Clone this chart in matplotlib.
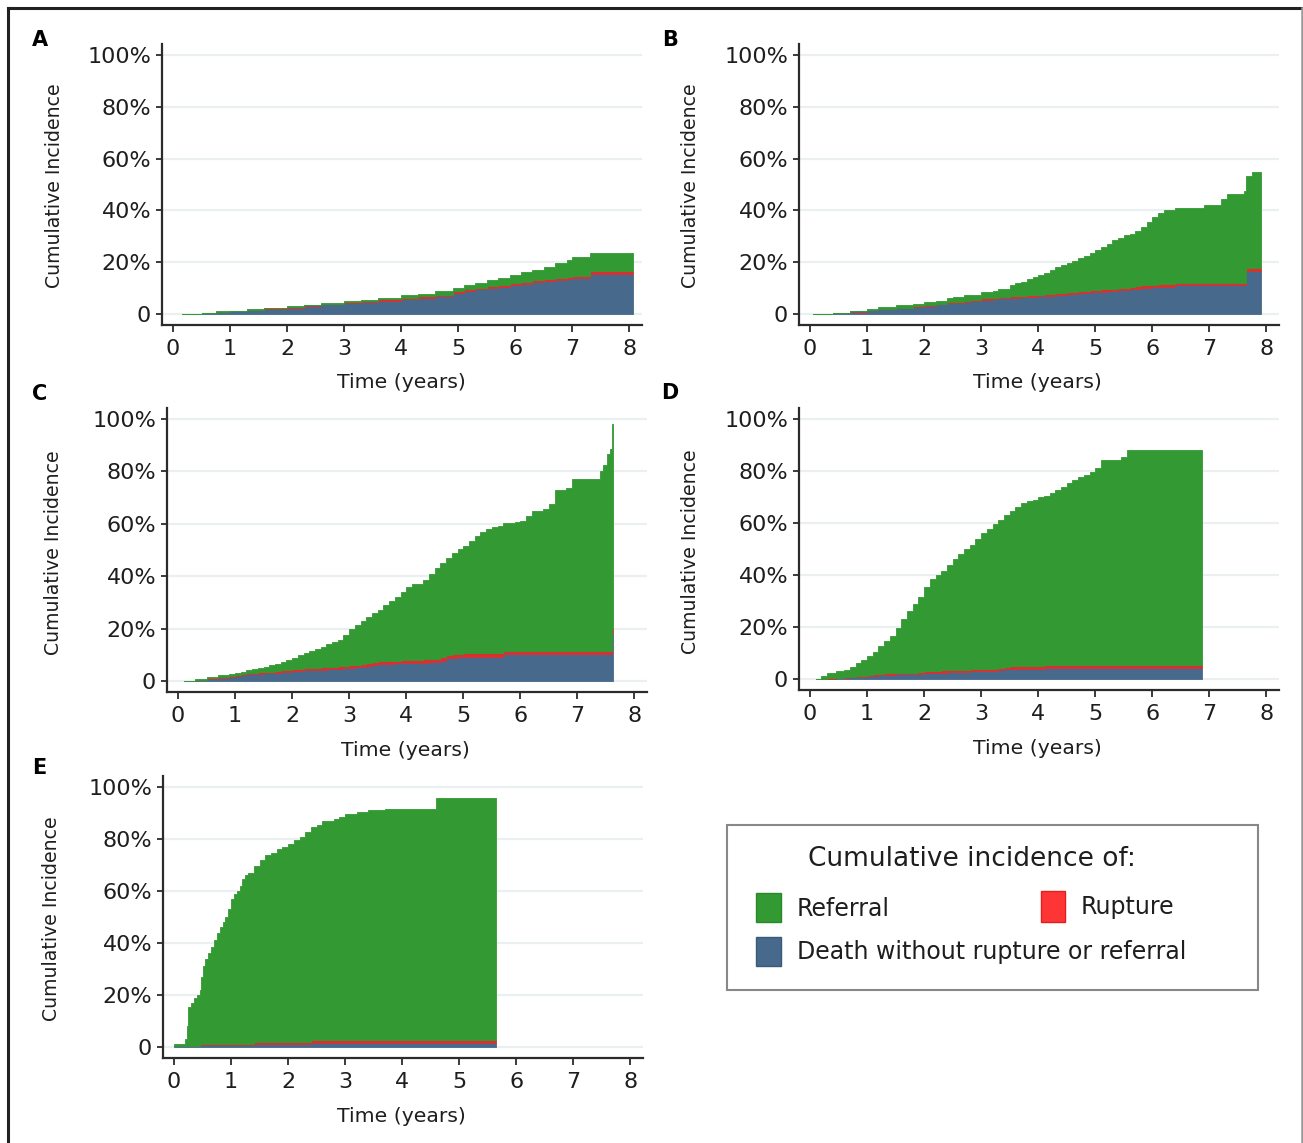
import numpy as np
import matplotlib
matplotlib.use("Agg")
import matplotlib.pyplot as plt
from matplotlib.patches import Rectangle
from matplotlib.lines import Line2D

# ---------------- data (cumulative incidence, %) ----------------
panel_letters = ["A", "B", "C", "D", "E"]
series_names = ["Death without rupture or referral", "Rupture", "Referral"]
x_ticks = [0, 1, 2, 3, 4, 5, 6, 7, 8]
y_ticks = [0, 20, 40, 60, 80, 100]
y_tick_labels = ["0", "20%", "40%", "60%", "80%", "100%"]

tA = [0.15, 0.5, 0.75, 1.0, 1.3, 1.6, 2.0, 2.3, 2.6, 3.0, 3.3, 3.6, 4.0, 4.3, 4.6,
      4.9, 5.1, 5.3, 5.5, 5.7, 5.9, 6.1, 6.3, 6.5, 6.7, 6.9, 7.0, 7.3]
endA = 8.07
deathA = [0, 0.3, 0.8, 1.1, 1.4, 2.0, 2.5, 3.0, 3.7, 4.2, 4.6, 5.1, 5.8, 6.3, 6.9,
          8.2, 9.0, 9.5, 10.1, 10.6, 11.2, 11.7, 12.2, 12.7, 13.1, 13.5, 13.9, 15.4]
ruptureA = [0, 0, 0.1, 0.1, 0.2, 0.2, 0.3, 0.3, 0.3, 0.4, 0.4, 0.5, 0.5, 0.5, 0.6,
            0.6, 0.6, 0.7, 0.7, 0.7, 0.8, 0.8, 0.8, 0.8, 0.9, 0.9, 0.9, 1.1]
referralA = [0, 0, 0.1, 0.1, 0.2, 0.2, 0.2, 0.2, 0.2, 0.4, 0.5, 0.6, 0.9, 1.0, 1.2,
             1.2, 1.6, 1.8, 2.2, 2.7, 3.2, 3.7, 4.0, 4.7, 5.5, 6.6, 7.2, 7.2]

tB = [0.05, 0.4, 0.7, 1.0, 1.2, 1.5, 1.8, 2.0, 2.2, 2.4, 2.5, 2.7, 2.8, 3.0, 3.2,
      3.3, 3.5, 3.6, 3.7, 3.8, 3.9, 4.0, 4.1, 4.2, 4.3, 4.4, 4.5, 4.6, 4.7, 4.8,
      4.9, 5.0, 5.1, 5.2, 5.3, 5.4, 5.5, 5.6, 5.7, 5.8, 5.9, 6.0, 6.1, 6.2, 6.4,
      6.9, 7.2, 7.3, 7.6, 7.65, 7.75]
endB = 7.91
deathB = [0, 0.5, 0.9, 1.4, 1.8, 2.3, 2.7, 3.2, 3.7, 4.1, 4.4, 4.8, 5.1, 5.5, 5.8,
          6.0, 6.2, 6.3, 6.4, 6.6, 6.7, 6.8, 6.9, 7.1, 7.3, 7.4, 7.6, 7.8, 8.0, 8.2,
          8.3, 8.4, 8.6, 8.7, 8.9, 9.1, 9.2, 9.5, 9.8, 10.0, 10.2, 10.3, 10.5, 10.6, 11.0,
          11.0, 11.0, 11.0, 11.0, 16.7, 16.7]
ruptureB = [0, 0, 0.1, 0.1, 0.2, 0.2, 0.3, 0.3, 0.3, 0.4, 0.4, 0.4, 0.4, 0.5, 0.5,
            0.5, 0.6, 0.6, 0.6, 0.6, 0.7, 0.7, 0.7, 0.7, 0.7, 0.8, 0.8, 0.8, 0.8, 0.8,
            0.9, 0.9, 0.9, 0.9, 0.9, 0.9, 1.0, 1.0, 1.0, 1.0, 1.0, 1.0, 1.0, 1.0, 1.0,
            1.0, 1.0, 1.0, 1.0, 1.1, 1.1]
referralB = [0, 0, 0.2, 0.5, 0.8, 0.8, 0.8, 1.0, 1.0, 1.5, 1.7, 2.0, 2.0, 2.4, 2.7,
             3.0, 4.2, 4.9, 5.5, 6.3, 6.8, 7.5, 8.4, 9.0, 10.0, 10.8, 11.2, 11.9, 12.7, 13.5,
             14.3, 15.5, 16.5, 17.4, 18.7, 19.5, 20.3, 20.5, 21.2, 22.5, 24.3, 26.2, 27.5, 28.4, 29.0,
             30.0, 32.5, 34.5, 35.5, 35.5, 37.2]

tC = [0.1, 0.3, 0.5, 0.7, 0.9, 1.0, 1.1, 1.2, 1.3, 1.4, 1.5, 1.6, 1.7, 1.8, 1.9,
      2.0, 2.1, 2.2, 2.3, 2.4, 2.5, 2.6, 2.7, 2.8, 2.9, 3.0, 3.1, 3.2, 3.3, 3.4,
      3.5, 3.6, 3.7, 3.8, 3.9, 4.0, 4.1, 4.3, 4.4, 4.5, 4.6, 4.7, 4.8, 4.9, 5.0,
      5.1, 5.2, 5.3, 5.4, 5.5, 5.6, 5.7, 5.9, 6.0, 6.1, 6.2, 6.4, 6.5, 6.6, 6.8,
      6.9, 7.3, 7.4, 7.45, 7.52, 7.57, 7.6]
endC = 7.63
deathC = [0, 0.4, 0.8, 1.2, 1.7, 1.8, 2.2, 2.5, 2.6, 2.8, 2.9, 3.0, 3.2, 3.3, 3.5,
          3.7, 3.8, 4.0, 4.1, 4.1, 4.3, 4.4, 4.6, 4.7, 4.8, 5.0, 5.2, 5.5, 5.8, 6.1,
          6.4, 6.5, 6.6, 6.7, 6.8, 6.8, 6.9, 7.0, 7.1, 7.3, 7.8, 8.7, 8.9, 9.0, 9.2,
          9.2, 9.2, 9.2, 9.2, 9.2, 9.2, 10.1, 10.1, 10.1, 10.1, 10.1, 10.1, 10.1, 10.1, 10.1,
          10.1, 10.1, 10.1, 10.1, 10.1, 10.1, 18.4]
ruptureC = [0, 0.1, 0.2, 0.3, 0.3, 0.4, 0.4, 0.5, 0.5, 0.5, 0.6, 0.6, 0.6, 0.7, 0.7,
            0.8, 0.8, 0.8, 0.8, 0.9, 0.9, 0.9, 0.9, 0.9, 1.0, 1.0, 1.0, 1.0, 1.0, 1.1,
            1.1, 1.1, 1.1, 1.1, 1.1, 1.2, 1.2, 1.2, 1.2, 1.2, 1.2, 1.3, 1.3, 1.3, 1.3,
            1.3, 1.3, 1.3, 1.3, 1.3, 1.3, 1.4, 1.4, 1.4, 1.4, 1.4, 1.4, 1.4, 1.4, 1.4,
            1.4, 1.4, 1.4, 1.4, 1.4, 1.4, 1.6]
referralC = [0, 0.3, 0.5, 0.7, 0.7, 0.8, 1.0, 1.0, 1.4, 1.7, 2.0, 2.4, 2.8, 3.2, 3.8,
             4.1, 5.2, 5.7, 6.6, 7.3, 7.8, 8.7, 9.5, 10.0, 11.7, 14.0, 15.3, 16.5, 17.7, 18.8,
             19.5, 21.4, 22.8, 24.2, 26.1, 28.0, 28.9, 30.3, 32.7, 34.5, 36.0, 37.0, 38.8, 40.2, 41.1,
             43.0, 44.9, 46.5, 47.5, 48.1, 48.8, 48.8, 49.0, 49.5, 51.5, 53.5, 54.3, 56.0, 61.5, 62.0,
             65.5, 65.5, 68.5, 71.1, 75.0, 77.0, 78.0]

tD = [0.1, 0.2, 0.3, 0.45, 0.6, 0.7, 0.8, 0.9, 1.0, 1.1, 1.2, 1.3, 1.4, 1.5, 1.6,
      1.7, 1.8, 1.9, 2.0, 2.1, 2.2, 2.3, 2.4, 2.5, 2.6, 2.7, 2.8, 2.9, 3.0, 3.1,
      3.2, 3.3, 3.4, 3.5, 3.6, 3.7, 3.8, 3.9, 4.0, 4.1, 4.2, 4.3, 4.4, 4.5, 4.6,
      4.7, 4.8, 4.9, 5.0, 5.1, 5.45, 5.55]
endD = 6.87
deathD = [0, 0, 0.2, 0.3, 0.5, 0.6, 0.6, 0.9, 1.1, 1.3, 1.5, 1.6, 1.7, 1.8, 1.9,
          1.9, 1.9, 2.0, 2.3, 2.4, 2.5, 2.5, 2.6, 2.6, 2.7, 2.8, 2.9, 2.9, 2.9, 3.0,
          3.1, 3.3, 3.8, 3.9, 4.0, 4.0, 4.0, 4.0, 4.0, 4.3, 4.3, 4.3, 4.3, 4.3, 4.3,
          4.3, 4.3, 4.3, 4.3, 4.3, 4.3, 4.3]
ruptureD = [0, 0, 0.1, 0.2, 0.3, 0.3, 0.4, 0.4, 0.5, 0.5, 0.5, 0.6, 0.6, 0.6, 0.6,
            0.6, 0.6, 0.7, 0.7, 0.7, 0.7, 0.8, 0.8, 0.8, 0.8, 0.8, 0.8, 0.9, 0.9, 0.9,
            0.9, 0.9, 1.0, 1.0, 1.0, 1.0, 1.0, 1.0, 1.0, 1.0, 1.0, 1.0, 1.0, 1.0, 1.0,
            1.0, 1.0, 1.0, 1.0, 1.0, 1.0, 1.0]
referralD = [0, 1.0, 2.0, 2.5, 2.8, 3.6, 5.0, 6.0, 7.1, 8.7, 10.6, 12.3, 14.1, 17.1, 20.5,
             23.5, 26.5, 28.8, 32.5, 35.4, 36.8, 38.2, 40.6, 42.6, 44.5, 46.4, 48.0, 50.2, 52.2, 53.9,
             55.5, 56.8, 58.2, 59.6, 61.0, 62.7, 63.5, 64.0, 65.0, 65.2, 66.2, 67.2, 68.7, 70.1, 71.2,
             72.2, 73.3, 74.2, 75.7, 79.1, 80.2, 82.7]

tE = [0.0, 0.17, 0.2, 0.23, 0.25, 0.3, 0.35, 0.4, 0.45, 0.48, 0.5, 0.55, 0.6, 0.65, 0.7,
      0.75, 0.8, 0.85, 0.9, 0.95, 1.0, 1.05, 1.1, 1.15, 1.2, 1.25, 1.3, 1.4, 1.5, 1.6,
      1.7, 1.8, 1.9, 2.0, 2.1, 2.2, 2.3, 2.4, 2.5, 2.6, 2.8, 2.9, 3.0, 3.2, 3.4,
      3.7, 4.6]
endE = 5.64
deathE = [0.3, 0.3, 0.4, 0.5, 0.5, 0.5, 0.5, 0.5, 0.6, 0.6, 0.6, 0.6, 0.6, 0.6, 0.6,
          0.6, 0.6, 0.6, 0.6, 0.6, 0.6, 0.6, 0.6, 0.6, 0.6, 0.6, 0.6, 1.0, 1.0, 1.0,
          1.0, 1.0, 1.0, 1.0, 1.0, 1.0, 1.0, 1.6, 1.6, 1.6, 1.6, 1.6, 1.6, 1.6, 1.6,
          1.6, 1.6]
ruptureE = [0, 0, 0, 0, 0, 0, 0, 0, 0.4, 0.4, 0.4, 0.4, 0.4, 0.4, 0.4,
            0.4, 0.4, 0.4, 0.4, 0.4, 0.4, 0.4, 0.4, 0.4, 0.4, 0.4, 0.4, 0.8, 0.8, 0.8,
            0.8, 0.8, 0.8, 0.8, 0.8, 0.8, 0.8, 1.0, 1.0, 1.0, 1.0, 1.0, 1.0, 1.0, 1.0,
            1.0, 1.0]
referralE = [0.7, 0.9, 2.6, 7.5, 15.0, 16.5, 18.2, 19.5, 21.0, 26.0, 30.0, 33.0, 35.0, 37.5, 40.0,
             43.0, 45.0, 47.0, 49.0, 52.0, 56.0, 58.0, 59.0, 61.0, 63.5, 65.0, 66.0, 67.9, 70.2, 72.0,
             72.7, 74.2, 75.2, 76.2, 77.7, 78.8, 80.7, 81.9, 82.9, 84.4, 85.1, 85.9, 87.1, 87.9, 88.4,
             89.0, 93.1]

panels = [
    (tA, endA, deathA, ruptureA, referralA),
    (tB, endB, deathB, ruptureB, referralB),
    (tC, endC, deathC, ruptureC, referralC),
    (tD, endD, deathD, ruptureD, referralD),
    (tE, endE, deathE, ruptureE, referralE),
]

# ---------------- styling / layout ----------------
W, H = 1303, 1143
C_DEATH = "#46698c"
C_RUPT = "#d83030"
C_REF = "#339933"
C_RUPT_LEG = "#ff3535"
TXT = "#1e1e1e"

fig = plt.figure(figsize=(W / 100, H / 100), dpi=100)
fig.patch.set_facecolor("white")

# overlay in pixel coordinates for annotations
ov = fig.add_axes([0, 0, 1, 1])
ov.set_xlim(0, W)
ov.set_ylim(H, 0)
ov.axis("off")

# axes rectangles in pixels: x0, x1, y_top, y_bottom
rects = [
    (161.6, 642.0, 43.9, 324.6),
    (798.6, 1279.0, 43.9, 324.6),
    (166.6, 647.0, 407.7, 691.7),
    (798.6, 1279.0, 407.8, 689.7),
    (162.6, 643.0, 775.8, 1057.7),
]
letter_pos = [(40, 40), (670, 40), (40, 394), (670, 393), (39, 768)]
ylab_pos = [(55, 186), (690, 186), (54, 553), (690, 552), (52, 919)]
xlab_pos = [(401, 383), (1037, 383), (405, 750), (1037, 748), (401, 1116)]

for i, (t, tend, d, r, f) in enumerate(panels):
    x0, x1, yt, yb = rects[i]
    ax = fig.add_axes([x0 / W, 1 - yb / H, (x1 - x0) / W, (yb - yt) / H])
    ax.set_facecolor("none")
    x = np.append(np.array(t, float), tend)
    ys = [np.append(np.array(s, float), s[-1]) for s in (d, r, f)]
    ax.stackplot(x, *ys, colors=[C_DEATH, C_RUPT, C_REF], step="post",
                 linewidth=0.6, edgecolor="face", zorder=3)
    ax.set_xlim(-0.2, 8.22)
    ax.set_ylim(-4.1, 104.3)
    ax.set_xticks(x_ticks)
    ax.set_yticks(y_ticks)
    ax.set_yticklabels(y_tick_labels)
    for yv in y_ticks:
        ax.axhline(yv, color="#eceff1", lw=1.6, zorder=1)
    for s in ("top", "right"):
        ax.spines[s].set_visible(False)
    for s in ("left", "bottom"):
        ax.spines[s].set_color("#2b2b2b")
        ax.spines[s].set_linewidth(1.6)
    ax.tick_params(axis="y", direction="out", length=4, width=1.3, color="#2b2b2b",
                   pad=3.5, labelsize=16, labelcolor=TXT)
    ax.tick_params(axis="x", direction="out", length=5, width=1.3, color="#2b2b2b",
                   pad=5.5, labelsize=16, labelcolor=TXT)

    lx, ly = letter_pos[i]
    ov.text(lx, ly, panel_letters[i], fontsize=15, fontweight="bold", color="black",
            ha="center", va="center")
    yx, yy = ylab_pos[i]
    ov.text(yx, yy, "Cumulative Incidence", fontsize=13.6, rotation=90, color=TXT,
            ha="center", va="center")
    xx, xy = xlab_pos[i]
    ov.text(xx, xy, "Time (years)", fontsize=14.7, color=TXT, ha="center", va="center")

# ---------------- legend ----------------
ov.add_patch(Rectangle((727, 825), 1258 - 727, 990 - 825, fill=False,
                       edgecolor="#888888", lw=1.5))
ov.text(972, 859, "Cumulative incidence of:", fontsize=19, color=TXT,
        ha="center", va="center")
ov.add_patch(Rectangle((756, 893), 25, 29, facecolor=C_REF, edgecolor="#2a8a2a", lw=1))
ov.add_patch(Rectangle((1041, 891), 24, 31, facecolor=C_RUPT_LEG, edgecolor="#e02020", lw=1))
ov.add_patch(Rectangle((756, 937), 25, 29, facecolor=C_DEATH, edgecolor="#3a5a7a", lw=1))
ov.text(797, 909, series_names[2], fontsize=17, color=TXT, ha="left", va="center")
ov.text(1081, 907, series_names[1], fontsize=17, color=TXT, ha="left", va="center")
ov.text(797, 952, series_names[0], fontsize=17, color=TXT, ha="left", va="center")

# ---------------- figure frame ----------------
ov.add_line(Line2D([8, 1302], [8, 8], color="#222222", lw=2.2))
ov.add_line(Line2D([8, 8], [8, H], color="#222222", lw=2.2))
ov.add_line(Line2D([1302, 1302], [8, H], color="#999999", lw=1.8))

fig.savefig("out.png", dpi=100)
